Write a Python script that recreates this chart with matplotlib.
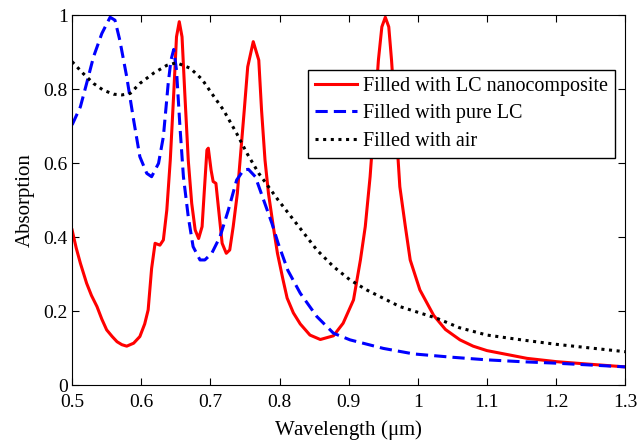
import numpy as np
import matplotlib
matplotlib.use("Agg")
import matplotlib.pyplot as plt

plt.rcParams['font.family'] = ['Liberation Serif', 'DejaVu Serif']
plt.rcParams['mathtext.fontset'] = 'stix'

# LC nanocomposite (red solid)
wl_nano = [0.500, 0.506, 0.512, 0.521, 0.528, 0.536, 0.543, 0.550, 0.558, 0.565, 0.572,
           0.579, 0.589, 0.598, 0.605, 0.610,
           0.615, 0.620, 0.627, 0.632, 0.637, 0.642, 0.647, 0.651, 0.655, 0.659, 0.663,
           0.668, 0.673, 0.678, 0.683, 0.688, 0.691, 0.695, 0.697, 0.701, 0.704, 0.708,
           0.712, 0.717, 0.723, 0.728, 0.733, 0.739, 0.743, 0.749, 0.754, 0.762, 0.770,
           0.774, 0.779, 0.784, 0.791, 0.797, 0.805, 0.811, 0.820, 0.830, 0.844, 0.859,
           0.878, 0.892, 0.907, 0.917, 0.924, 0.931, 0.938, 0.943, 0.948, 0.953, 0.958,
           0.962, 0.970, 0.974, 0.982, 0.989, 1.003, 1.023, 1.040, 1.061, 1.080, 1.100,
           1.158, 1.201, 1.250, 1.300]
abs_nano = [0.419, 0.370, 0.329, 0.275, 0.242, 0.212, 0.178, 0.149, 0.131, 0.117, 0.109,
            0.105, 0.113, 0.131, 0.165, 0.203,
            0.315, 0.383, 0.378, 0.392, 0.473, 0.608, 0.788, 0.941, 0.982, 0.941, 0.788,
            0.608, 0.491, 0.419, 0.396, 0.428, 0.518, 0.635, 0.640, 0.581, 0.550, 0.545,
            0.473, 0.383, 0.356, 0.365, 0.428, 0.518, 0.608, 0.743, 0.860, 0.928, 0.878,
            0.743, 0.608, 0.518, 0.428, 0.356, 0.285, 0.235, 0.195, 0.165, 0.135, 0.123,
            0.133, 0.167, 0.230, 0.338, 0.428, 0.563, 0.743, 0.878, 0.968, 0.994, 0.968,
            0.878, 0.653, 0.536, 0.428, 0.338, 0.257, 0.188, 0.150, 0.122, 0.105, 0.093,
            0.072, 0.063, 0.056, 0.049]

# pure LC (blue dashed)
wl_pure = [0.500, 0.512, 0.521, 0.531, 0.543, 0.555, 0.562, 0.569, 0.579, 0.589, 0.598,
           0.608, 0.615, 0.625, 0.632, 0.639, 0.643, 0.647, 0.651, 0.656, 0.661, 0.668,
           0.675, 0.685, 0.692, 0.702, 0.714, 0.726, 0.738, 0.748, 0.755, 0.765, 0.777,
           0.789, 0.798, 0.812, 0.830, 0.854, 0.878, 0.902, 0.950, 0.994, 1.050, 1.100,
           1.150, 1.200, 1.250, 1.300]
abs_pure = [0.703, 0.752, 0.815, 0.887, 0.950, 0.994, 0.986, 0.932, 0.833, 0.716, 0.617,
            0.572, 0.563, 0.599, 0.671, 0.815, 0.878, 0.907, 0.851, 0.698, 0.563, 0.455,
            0.374, 0.338, 0.338, 0.356, 0.401, 0.473, 0.554, 0.581, 0.583, 0.563, 0.500,
            0.437, 0.383, 0.310, 0.248, 0.185, 0.140, 0.122, 0.099, 0.084, 0.075, 0.068,
            0.063, 0.059, 0.054, 0.049]

# air (black dotted)
wl_air = [0.500, 0.516, 0.531, 0.545, 0.560, 0.572, 0.584, 0.598, 0.618, 0.637, 0.651,
          0.671, 0.688, 0.702, 0.719, 0.738, 0.753, 0.770, 0.784, 0.798, 0.830, 0.854,
          0.878, 0.902, 0.926, 0.974, 1.028, 1.060, 1.100, 1.150, 1.200, 1.250, 1.300]
abs_air = [0.874, 0.842, 0.815, 0.797, 0.786, 0.784, 0.788, 0.815, 0.843, 0.864, 0.871,
           0.856, 0.826, 0.788, 0.743, 0.680, 0.626, 0.572, 0.536, 0.500, 0.423, 0.365,
           0.320, 0.284, 0.257, 0.212, 0.180, 0.155, 0.135, 0.122, 0.110, 0.100, 0.090]

xticks = [0.5, 0.6, 0.7, 0.8, 0.9, 1.0, 1.1, 1.2, 1.3]
xticklabels = ["0.5", "0.6", "0.7", "0.8", "0.9", "1", "1.1", "1.2", "1.3"]
yticks = [0, 0.2, 0.4, 0.6, 0.8, 1.0]
yticklabels = ["0", "0.2", "0.4", "0.6", "0.8", "1"]

fig = plt.figure(figsize=(6.38, 4.48), dpi=100)
ax = fig.add_axes([0.113, 0.1406, 0.867, 0.8259])

ax.plot(wl_nano, abs_nano, color='red', lw=2.2, ls='-', label='Filled with LC nanocomposite')
ax.plot(wl_pure, abs_pure, color='blue', lw=2.2, ls=(0, (4, 2)), label='Filled with pure LC')
ax.plot(wl_air, abs_air, color='black', lw=2.2, ls=(0, (1, 1.5)), label='Filled with air')

ax.set_xlim(0.5, 1.3)
ax.set_ylim(0, 1)
ax.set_xticks(xticks)
ax.set_xticklabels(xticklabels)
ax.set_yticks(yticks)
ax.set_yticklabels(yticklabels)
ax.tick_params(direction='in', top=True, right=True, labelsize=14, length=5, width=0.8)
ax.tick_params(axis='x', pad=6.5)
ax.tick_params(axis='y', pad=3)
ax.set_xlabel('Wavelength ($\\mathregular{\\mu}$m)', fontsize=15, labelpad=5)
ax.set_ylabel('Absorption', fontsize=15, labelpad=6)

leg = ax.legend(loc='upper right', bbox_to_anchor=(0.982, 0.851), fontsize=14.5,
                fancybox=False, framealpha=1, edgecolor='black', handlelength=2.1,
                borderpad=0.35, labelspacing=0.4, handletextpad=0.3, borderaxespad=0)
leg.get_frame().set_linewidth(1.0)

fig.savefig('out.png', dpi=100)
